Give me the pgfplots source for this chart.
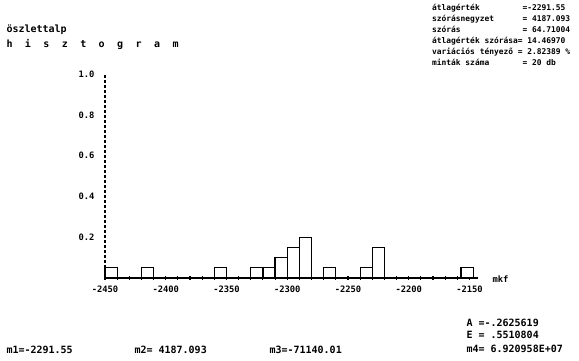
\documentclass[border=0pt]{standalone}
\usepackage{fontspec}
\setmainfont{DejaVu Sans Mono}
\usepackage{pgfplots}
\pgfplotsset{compat=1.18}
\newcommand{\tf}{\fontsize{7.9}{10.9}\selectfont\bfseries}
\newcommand{\bff}{\fontsize{10}{11}\selectfont\bfseries}
\newcommand{\kf}{\fontsize{8.8}{10}\selectfont\bfseries}
\begin{document}
\begin{tikzpicture}[x=1pt,y=1pt]
\useasboundingbox (0,0) rectangle (579,361);
\begin{axis}[
  at={(105pt,83pt)}, anchor=south west,
  scale only axis, width=373pt, height=204pt,
  xmin=-2450, xmax=-2143, ymin=0, ymax=1.0,
  axis lines=left,
  x axis line style={-, line width=1.3pt},
  y axis line style={-, line width=1.1pt, densely dashed},
  xtick={-2450,-2400,-2350,-2300,-2250,-2200,-2150},
  minor xtick={-2440,-2430,...,-2150},
  ytick={0.2,0.4,0.6,0.8,1.0},
  yticklabels={0.2,0.4,0.6,0.8,1.0},
  xticklabels={-2450,-2400,-2350,-2300,-2250,-2200,-2150},
  tick align=center,
  major tick length=4pt, minor tick length=4pt,
  tick style={line width=1.1pt, black},
  ytick style={draw=none},
  ticklabel style={font=\kf},
  yticklabel style={xshift=-5pt},
  xticklabel style={yshift=-2pt},
  /pgf/number format/assume math mode=true,
  clip=false,
]
\addplot[ybar, bar width=10, bar shift=0pt, fill=white, draw=black, line width=1.2pt]
coordinates {
(-2445,0.05) (-2415,0.05) (-2355,0.05) (-2325,0.05) (-2315,0.05)
(-2305,0.10) (-2295,0.15) (-2285,0.20) (-2265,0.05) (-2235,0.05)
(-2225,0.15) (-2152,0.05)
};
\end{axis}
\node[anchor=west,font=\kf] at (489,82) {mkf};
\node[anchor=west,font=\bff] at (3,331) {öszlettalp};
\node[anchor=west,font=\bff] at (3,317) {\makebox[172pt][s]{h i s z t o g r a m}};
\node[anchor=north west,font=\tf,align=left,inner sep=0pt] at (432,357) {%
átlagérték\ \ \ \ \ \ \ \ \ =-2291.55\\
szórásnegyzet\ \ \ \ \ \ = 4187.093\\
szórás\ \ \ \ \ \ \ \ \ \ \ \ \ = 64.71004\\
átlagérték szórása= 14.46970\\
variációs tényező = 2.82389 \%\\
minták száma\ \ \ \ \ \ \ = 20 db};
\node[anchor=west,font=\bff] at (463,38) {A =-.2625619};
\node[anchor=west,font=\bff] at (463,26) {E = .5510804};
\node[anchor=west,font=\bff] at (463,12) {m4= 6.920958E+07};
\node[anchor=west,font=\bff] at (3,11) {m1=-2291.55};
\node[anchor=west,font=\bff] at (131,11) {m2= 4187.093};
\node[anchor=west,font=\bff] at (266,11) {m3=-71140.01};
\end{tikzpicture}
\end{document}
